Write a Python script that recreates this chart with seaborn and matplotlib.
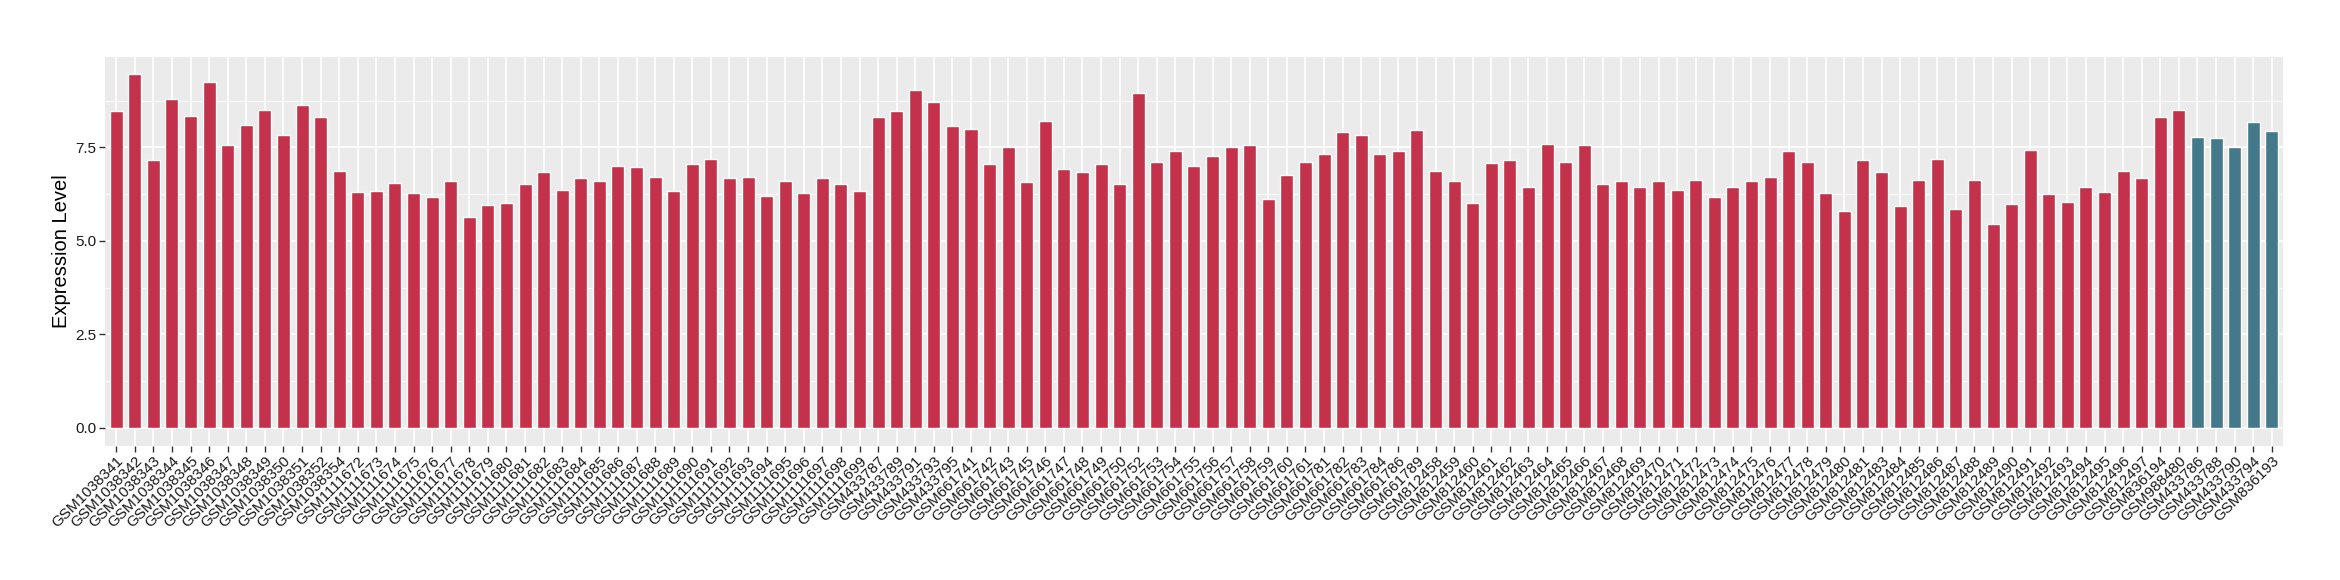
import matplotlib
matplotlib.use("Agg")
import matplotlib.pyplot as plt
import seaborn as sns
import pandas as pd
import numpy as np
from matplotlib.ticker import MultipleLocator, FormatStrFormatter

samples_red = (
    [f"GSM10383{n}" for n in [41, 42, 43, 44, 45, 46, 47, 48, 49, 50, 51, 52, 54]]
    + [f"GSM11116{n}" for n in range(72, 100)]
    + ["GSM433787", "GSM433789", "GSM433791", "GSM433793", "GSM433795"]
    + [f"GSM661{n}" for n in [741, 742, 743, 745, 746, 747, 748, 749, 750, 752, 753, 754,
                              755, 756, 757, 758, 759, 760, 761, 781, 782, 783, 784, 786, 789]]
    + [f"GSM812{n}" for n in list(range(458, 482)) + list(range(483, 498))]
    + ["GSM836194", "GSM988480"]
)
samples_blue = ["GSM433786", "GSM433788", "GSM433790", "GSM433794", "GSM836193"]

values_red = [
    8.46, 9.45, 7.15, 8.78, 8.33, 9.24, 7.55, 8.09, 8.51, 7.82, 8.62, 8.30, 6.86,
    6.30, 6.33, 6.54, 6.27, 6.17, 6.60, 5.65, 5.97, 6.00, 6.53, 6.85, 6.37, 6.67,
    6.60, 7.00, 6.97, 6.72, 6.33, 7.05, 7.20, 6.68, 6.72, 6.20, 6.60, 6.29, 6.68,
    6.53, 6.33,
    8.32, 8.48, 9.03, 8.71, 8.06,
    8.00, 7.05, 7.52, 6.57, 8.20, 6.92, 6.85, 7.05, 6.53, 8.95, 7.12, 7.40, 7.00,
    7.28, 7.52, 7.56, 6.13, 6.76, 7.12, 7.32, 7.92, 7.84, 7.32, 7.40, 7.96,
    6.88, 6.60, 6.00, 7.08, 7.16, 6.45, 7.60, 7.12, 7.56, 6.53, 6.60, 6.45, 6.60,
    6.37, 6.64, 6.17, 6.45, 6.60, 6.72, 7.40, 7.12, 6.29, 5.81, 7.16, 6.85, 5.93,
    6.64, 7.20, 5.85, 6.64, 5.45, 5.98, 7.42, 6.25, 6.04, 6.44, 6.30, 6.86, 6.67,
    8.30, 8.49,
]
values_blue = [7.79, 7.74, 7.50, 8.19, 7.93]

groups = ["red"] * len(samples_red) + ["blue"] * len(samples_blue)
df = pd.DataFrame({
    "sample": samples_red + samples_blue,
    "value": values_red + values_blue,
    "group": groups,
})

sns.set_theme(style="darkgrid")
plt.rcParams["font.family"] = ["Liberation Sans", "DejaVu Sans"]

fig = plt.figure(figsize=(23.4, 5.8), dpi=100)
ax = fig.add_axes([0.0449, 0.2316, 0.9307, 0.6706])
ax.set_facecolor("#EBEBEB")

sns.barplot(data=df, x="sample", y="value", hue="group",
            palette={"red": "#C3314A", "blue": "#44798B"},
            dodge=False, width=0.7, legend=False, ax=ax, saturation=1)

n = len(df)
ax.set_xlim(-0.6, n - 0.4)
ax.set_ylim(-0.4725, 9.9225)
ax.yaxis.set_major_locator(MultipleLocator(2.5))
ax.yaxis.set_minor_locator(MultipleLocator(1.25))
ax.yaxis.set_major_formatter(FormatStrFormatter("%.1f"))
ax.grid(which="major", color="white", linewidth=1.2)
ax.grid(which="minor", axis="y", color="white", linewidth=0.6)
ax.set_axisbelow(True)
for s in ax.spines.values():
    s.set_visible(False)

ax.set_xlabel("")
ax.set_ylabel("Expression Level", fontsize=14.5, color="black", labelpad=3)
ax.tick_params(axis="both", which="major", length=4, width=1, color="#333333",
               labelcolor="#1a1a1a", labelsize=11, pad=2, bottom=True, left=True)
ax.tick_params(axis="both", which="minor", length=0)
plt.setp(ax.get_xticklabels(), rotation=45, ha="right", rotation_mode="anchor")

fig.savefig("out.png", dpi=100, facecolor="white")
